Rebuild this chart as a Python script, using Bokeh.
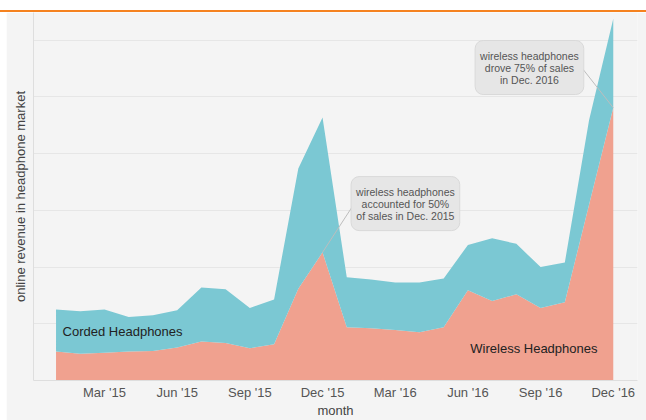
from bokeh.plotting import figure
from bokeh.models import FixedTicker, Label, Div, ColumnDataSource
from bokeh.layouts import column
from bokeh.embed import file_html
from bokeh.resources import INLINE

# ---- data (month index 0 = Jan '15 ... 23 = Dec '16) ----
months = list(range(24))
wireless = [0.51, 0.47, 0.49, 0.51, 0.52, 0.58, 0.69, 0.66, 0.57, 0.64, 1.62, 2.26,
            0.94, 0.92, 0.89, 0.85, 0.94, 1.59, 1.40, 1.52, 1.28, 1.38, 3.10, 4.81]
corded = [0.74, 0.75, 0.76, 0.61, 0.63, 0.66, 0.95, 0.95, 0.71, 0.79, 2.12, 2.38,
          0.88, 0.86, 0.84, 0.88, 0.86, 0.80, 1.11, 0.89, 0.72, 0.70, 1.49, 1.57]
tick_months = [2, 5, 8, 11, 14, 17, 20, 23]
tick_labels = ["Mar '15", "Jun '15", "Sep '15", "Dec '15",
               "Mar '16", "Jun '16", "Sep '16", "Dec '16"]
grid_levels = [1, 2, 3, 4, 5, 6]
note1 = "wireless headphones\naccounted for 50%\nof sales in Dec. 2015"
note2 = "wireless headphones\ndrove 75% of sales\nin Dec. 2016"

FONT = "Liberation Sans"
TEAL = "#7bc8d3"
SALMON = "#f0a18f"
BG = "#f4f4f4"

src = ColumnDataSource(dict(x=months, wireless=wireless, corded=corded))

p = figure(width=640, height=408, output_backend="svg", toolbar_location=None,
           x_range=(-0.93, 24.0), y_range=(0, 6.49),
           background_fill_color=BG, border_fill_color=BG,
           min_border_left=27, min_border_right=9, min_border_top=0,
           min_border_bottom=40, outline_line_color=None, margin=(0, 0, 0, 6))

p.varea_stack(["wireless", "corded"], x="x", source=src, color=[SALMON, TEAL])

# pointer lines
p.line([12.28, months[11]], [3.10, wireless[11]], line_color="#bdbdbd", line_width=1)
p.line([21.73, months[23]], [5.50, wireless[23]], line_color="#bdbdbd", line_width=1)

# axes
p.xaxis.ticker = FixedTicker(ticks=tick_months)
p.xaxis.major_label_overrides = {m: l for m, l in zip(tick_months, tick_labels)}
p.xaxis.axis_label = "month"
p.yaxis.axis_label = "online revenue in headphone market"
p.yaxis.ticker = FixedTicker(ticks=[])
p.ygrid.ticker = FixedTicker(ticks=grid_levels)
for ax in (p.xaxis[0], p.yaxis[0]):
    ax.axis_line_color = "#dedede"
    ax.major_tick_line_color = None
    ax.minor_tick_line_color = None
    ax.major_tick_out = 0
    ax.major_tick_in = 0
    ax.axis_label_text_font = FONT
    ax.axis_label_text_font_style = "normal"
    ax.axis_label_text_font_size = "13px"
    ax.axis_label_text_color = "#444444"
    ax.major_label_text_font = FONT
    ax.major_label_text_font_size = "13px"
    ax.major_label_text_color = "#555555"
p.yaxis.major_label_standoff = 0
p.xaxis.major_label_standoff = 4
p.xaxis.axis_label_standoff = 0
p.yaxis.axis_label_standoff = 6
p.xgrid.grid_line_color = None
p.ygrid.grid_line_color = "#e6e6e6"

# series labels
p.add_layout(Label(x=0.27, y=0.86, text="Corded Headphones", text_align="left",
                   text_baseline="middle", text_font=FONT, text_font_size="13px",
                   text_color="#222222"))
p.add_layout(Label(x=17.1, y=0.57, text="Wireless Headphones", text_align="left",
                   text_baseline="middle", text_font=FONT, text_font_size="13px",
                   text_color="#222222"))

# annotation boxes
for (lx, ly, txt) in [(14.42, 3.12, note1), (19.54, 5.52, note2)]:
    p.add_layout(Label(x=lx, y=ly, text=txt, text_align="center", text_baseline="middle",
                       text_font=FONT, text_font_size="10.5px", text_color="#555555",
                       text_line_height=1.0,
                       background_fill_color="#e6e6e6", border_line_color="#d9d9d9",
                       padding=dict(left=5, right=5, top=9, bottom=9), border_radius=8))

top = Div(text='<div style="margin-top:6px;height:2px;width:646px;background:#f5821f"></div>',
          width=646, height=12, margin=0)

layout = column(top, p, margin=0, spacing=0)
open("out.html", "w").write(file_html(layout, INLINE))
